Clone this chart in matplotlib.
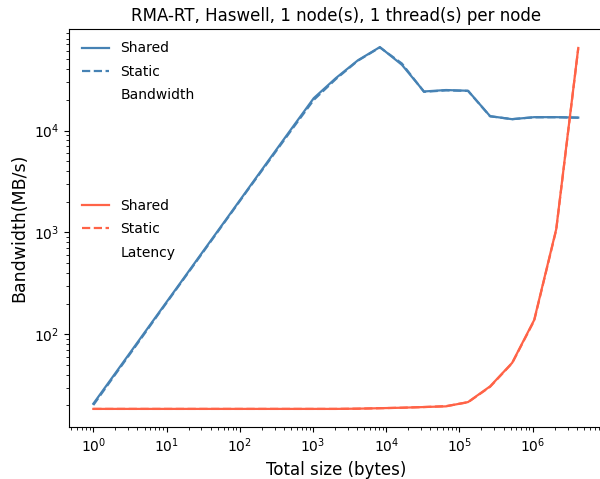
import matplotlib
matplotlib.use("Agg")
from matplotlib import pyplot as plt
from matplotlib.lines import Line2D

# message sizes: 2^0 .. 2^22 bytes
sizes = [2 ** k for k in range(23)]

bw_shared = [20.8, 41.5, 83, 166, 331, 662, 1320, 2640, 5270, 10500, 20800,
             32700, 48900, 66000, 44200, 24200, 25000, 24600, 13850, 12930,
             13540, 13540, 13400]
bw_static = [20.2, 40.5, 81, 163, 326, 650, 1300, 2600, 5150, 10200, 20000,
             32000, 48500, 65500, 45500, 24000, 24800, 24500, 13800, 12950,
             13500, 13520, 13380]

lat_shared = [18.5, 18.5, 18.5, 18.5, 18.5, 18.5, 18.5, 18.5, 18.5, 18.5, 18.5,
              18.5, 18.6, 18.8, 19.0, 19.3, 19.6, 21.6, 30.8, 52.4, 138, 1075,
              64700]
lat_static = [18.5, 18.5, 18.5, 18.5, 18.5, 18.5, 18.5, 18.5, 18.5, 18.5, 18.5,
              18.5, 18.6, 18.8, 19.0, 19.3, 19.7, 21.5, 30.5, 52.0, 136, 1060,
              64000]

xticks = [1, 10, 100, 1e3, 1e4, 1e5, 1e6]

blue = "steelblue"
red = "tomato"

fig = plt.figure(figsize=(6.0, 4.79), dpi=100)
ax = fig.add_axes([69.1 / 600, 52 / 479, 533.4 / 600, 398 / 479])

b1, = ax.plot(sizes, bw_shared, color=blue, lw=1.6, label="Shared")
b2, = ax.plot(sizes, bw_static, color=blue, lw=1.6, ls="--", label="Static")
r1, = ax.plot(sizes, lat_shared, color=red, lw=1.6, label="Shared")
r2, = ax.plot(sizes, lat_static, color=red, lw=1.6, ls="--", label="Static")

ax.set_xscale("log")
ax.set_yscale("log")
ax.set_xticks(xticks)

blank = Line2D([], [], color="none")
leg1 = ax.legend([b1, b2, blank], ["Shared", "Static", "Bandwidth"],
                 loc="upper left", frameon=False, fontsize=10,
                 labelspacing=0.68)
ax.add_artist(leg1)
ax.legend([r1, r2, blank], ["Shared", "Static", "Latency"],
          loc="upper left", bbox_to_anchor=(0, 0.605), frameon=False,
          fontsize=10, labelspacing=0.68)

ax.set_title("RMA-RT, Haswell, 1 node(s), 1 thread(s) per node", fontsize=12)
ax.set_xlabel("Total size (bytes)", fontsize=12)
ax.set_ylabel("Bandwidth(MB/s)", fontsize=12.5)
ax.tick_params(labelsize=10)

fig.savefig("out.png", dpi=100)
